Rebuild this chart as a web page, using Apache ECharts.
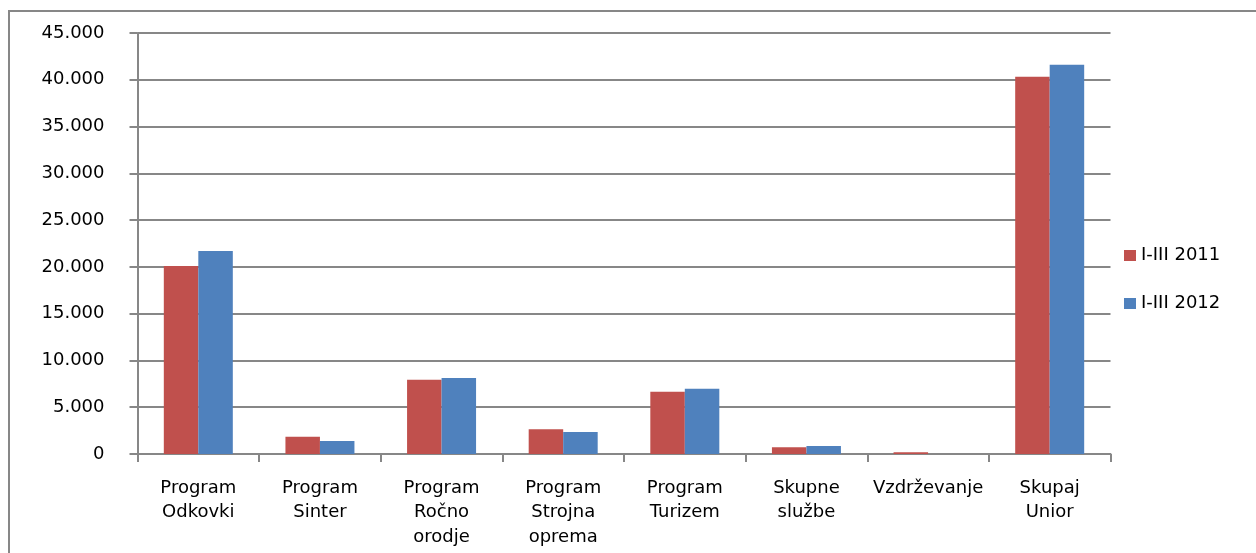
<!DOCTYPE html>
<html>
<head>
<meta charset="utf-8">
<script src="https://cdn.jsdelivr.net/npm/echarts@6/dist/echarts.min.js"></script>
<style>
html,body{margin:0;padding:0;background:#fff;}
#frame{position:absolute;left:8px;top:10px;width:1260px;height:560px;border-left:2px solid #878787;border-top:2px solid #878787;box-sizing:border-box;}
#chart{position:absolute;left:0;top:0;width:1256px;height:553px;}
</style>
</head>
<body>
<div id="frame"></div>
<div id="chart"></div>
<script>
const categories = ["Program\nOdkovki", "Program\nSinter", "Program\nRočno\norodje", "Program\nStrojna\noprema", "Program\nTurizem", "Skupne\nslužbe", "Vzdrževanje", "Skupaj\nUnior"];
const seriesNames = ["I-III 2011", "I-III 2012"];
const values2011 = [20100, 1850, 7940, 2640, 6660, 715, 200, 40330];
const values2012 = [21700, 1390, 8120, 2350, 6980, 855, 0, 41610];
const yTicks = { min: 0, max: 45000, interval: 5000 };

const FONT = "DejaVu Sans, Verdana, sans-serif";
const chart = echarts.init(document.getElementById('chart'), null, { renderer: 'canvas' });
chart.setOption({
  animation: false,
  backgroundColor: 'transparent',
  grid: { left: 137.5, right: 145.5, top: 33, bottom: 99, containLabel: false },
  legend: {
    orient: 'vertical',
    left: 1124,
    top: 246.5,
    padding: 0,
    itemWidth: 12,
    itemHeight: 11,
    itemGap: 30,
    icon: 'rect',
    textStyle: { fontFamily: FONT, fontSize: 18, color: '#000' },
    data: seriesNames
  },
  xAxis: {
    type: 'category',
    data: categories,
    axisLine: { show: true, lineStyle: { color: '#878787', width: 2 } },
    axisTick: { show: true, length: 8, lineStyle: { color: '#878787', width: 2 } },
    axisLabel: { interval: 0, margin: 22, fontFamily: FONT, fontSize: 18, color: '#000', lineHeight: 24.5 }
  },
  yAxis: {
    type: 'value',
    min: yTicks.min, max: yTicks.max, interval: yTicks.interval,
    axisLine: { show: true, lineStyle: { color: '#878787', width: 2 } },
    axisTick: { show: true, length: 8, lineStyle: { color: '#878787', width: 2 } },
    splitLine: { show: true, lineStyle: { color: '#878787', width: 2 } },
    axisLabel: {
      margin: 33, fontFamily: FONT, fontSize: 18, color: '#000',
      formatter: v => String(v).replace(/\B(?=(\d{3})+(?!\d))/g, '.')
    }
  },
  series: [
    { name: seriesNames[0], type: 'bar', data: values2011, barWidth: 34.5, barGap: '0%',
      itemStyle: { color: '#C0504D' } },
    { name: seriesNames[1], type: 'bar', data: values2012, barWidth: 34.5, barGap: '0%',
      itemStyle: { color: '#4F81BD' } }
  ]
});
</script>
</body>
</html>
